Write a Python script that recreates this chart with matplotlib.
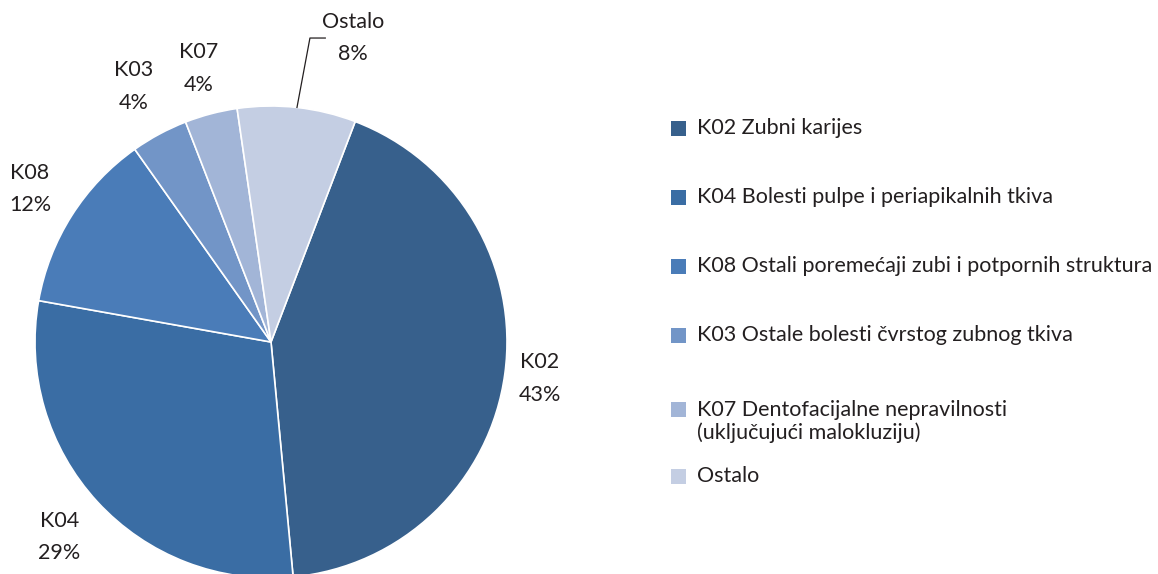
import numpy as np
import matplotlib.pyplot as plt
from matplotlib.patches import Rectangle

# share of visits by diagnosis group (%)
codes = ['K02', 'K04', 'K08', 'K03', 'K07', 'Ostalo']
shares = [42.7, 29.3, 12.4, 3.9, 3.6, 8.1]
legend_labels = [
    'K02 Zubni karijes',
    'K04 Bolesti pulpe i periapikalnih tkiva',
    'K08 Ostali poremećaji zubi i potpornih struktura',
    'K03 Ostale bolesti čvrstog zubnog tkiva',
    'K07 Dentofacijalne nepravilnosti\n(uključujući malokluziju)',
    'Ostalo',
]
colors = ['#37608C', '#3A6DA4', '#4A7CB8', '#7295C7', '#A2B5D7', '#C4CEE3']

plt.rcParams['font.family'] = ['Lato', 'DejaVu Sans']
txt_color = '#231F20'
fs = 15.5

W, H = 1158, 574
fig = plt.figure(figsize=(W / 100, H / 100), dpi=100)

# pie axes: centre (271, 342) px, radius 236 px
cx, cy, r = 271, 342, 236
ax = fig.add_axes([(cx - r) / W, (H - cy - r) / H, 2 * r / W, 2 * r / H])
wedges, _ = ax.pie(shares, colors=colors, startangle=69.1, counterclock=False,
                   radius=1.0, wedgeprops=dict(edgecolor='white', linewidth=1.2))
ax.set_xlim(-1, 1)
ax.set_ylim(-1, 1)
ax.axis('off')

dists = [1.15, 1.22, 1.21, 1.23, 1.2]
for w, code, val, d in zip(wedges[:5], codes[:5], shares[:5], dists):
    ang = np.deg2rad((w.theta1 + w.theta2) / 2)
    ax.text(d * np.cos(ang), d * np.sin(ang), f'{code}\n{val:.0f}%',
            ha='center', va='center', fontsize=fs, color=txt_color,
            linespacing=1.8, clip_on=False)

# "Ostalo" label with leader line
w = wedges[5]
ang = np.deg2rad((w.theta1 + w.theta2) / 2)
x0, y0 = np.cos(ang), np.sin(ang)
ax.plot([x0, 0.165, 0.23], [y0, 1.288, 1.288], color='#231F20', lw=0.9,
        clip_on=False)
ax.text(0.347, 1.288, f'{codes[5]}\n{shares[5]:.0f}%', ha='center', va='center',
        fontsize=fs, color=txt_color, linespacing=1.8, clip_on=False)

# legend
rows_y = [128, 197, 266, 335, 409, 476]
line_h = 25
for col, lab, y in zip(colors, legend_labels, rows_y):
    fig.patches.append(Rectangle((671 / W, (H - y - 7.5) / H), 15 / W, 15 / H,
                                 transform=fig.transFigure, facecolor=col,
                                 edgecolor='none'))
    ty = y + (lab.count('\n')) * line_h / 2
    fig.text(697 / W, (H - ty) / H, lab, ha='left', va='center',
             fontsize=fs, color=txt_color, linespacing=1.2)

fig.savefig('out.png', dpi=100, facecolor='white')
